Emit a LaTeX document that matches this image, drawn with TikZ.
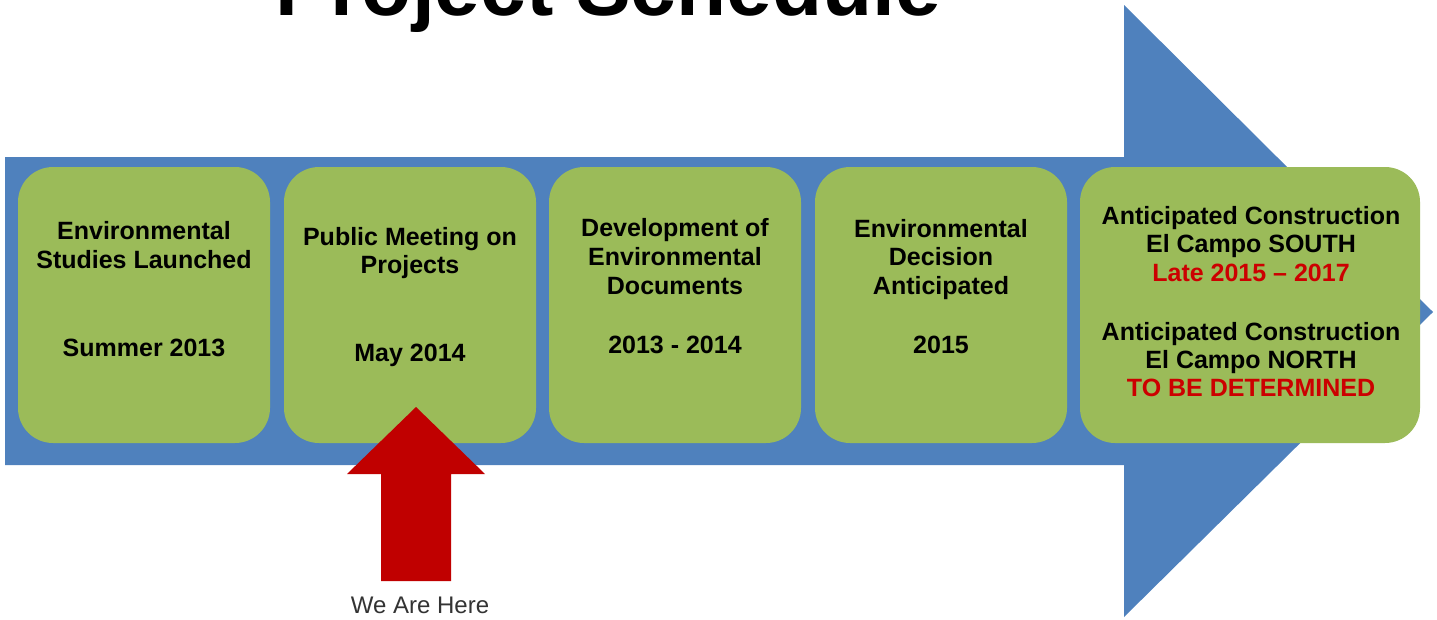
\documentclass[tikz,border=0pt]{standalone}
\usepackage{fontspec}
\setmainfont{Liberation Sans}
\definecolor{arrowblue}{HTML}{4F81BD}
\definecolor{boxgreen}{HTML}{9BBB59}
\definecolor{herered}{HTML}{C00000}
\definecolor{txtred}{HTML}{CC0000}
\begin{document}
\begin{tikzpicture}[x=1pt,y=-1pt,
  box/.style={fill=boxgreen, draw=none, rounded corners=35pt, minimum height=276pt, inner sep=0pt},
  lbl/.style={font=\fontsize{25}{29}\selectfont\bfseries, anchor=base, inner sep=0pt},
  redlbl/.style={lbl, text=txtred},
  herelbl/.style={font=\fontsize{24}{28}\selectfont, text=black!80, anchor=base, inner sep=0pt},
  titlelbl/.style={font=\fontsize{82}{90}\selectfont\bfseries, anchor=base, inner sep=0pt}]
\clip (0,0) rectangle (1437,619);
\useasboundingbox (0,0) rectangle (1437,619);
% title (cut off at top)
\node[titlelbl] (title) at (608,15) {Project Schedule};
% big blue arrow
\fill[arrowblue] (5,157) -- (1124,157) -- (1124,5) -- (1433,312) -- (1124,617) -- (1124,465) -- (5,465) -- cycle;
% green boxes
\node[box, minimum width=252pt] (b1) at (144,305) {};
\node[box, minimum width=252pt] (b2) at (410,305) {};
\node[box, minimum width=252pt] (b3) at (675,305) {};
\node[box, minimum width=252pt] (b4) at (941,305) {};
\node[box, minimum width=340pt] (b5) at (1250,305) {};
% box 1
\node[lbl] (t1a) at (144,239) {Environmental};
\node[lbl] (t1b) at (144,268) {Studies Launched};
\node[lbl] (t1c) at (144,356) {Summer 2013};
% box 2
\node[lbl] (t2a) at (410,245) {Public Meeting on};
\node[lbl] (t2b) at (410,273) {Projects};
\node[lbl] (t2c) at (410,361) {May 2014};
% box 3
\node[lbl] (t3a) at (675,236) {Development of};
\node[lbl] (t3b) at (675,265) {Environmental};
\node[lbl] (t3c) at (675,294) {Documents};
\node[lbl] (t3d) at (675,353) {2013 - 2014};
% box 4
\node[lbl] (t4a) at (941,237) {Environmental};
\node[lbl] (t4b) at (941,265) {Decision};
\node[lbl] (t4c) at (941,294) {Anticipated};
\node[lbl] (t4d) at (941,353) {2015};
% box 5
\node[lbl] (t5a) at (1251,224) {Anticipated Construction};
\node[lbl] (t5b) at (1251,252) {El Campo SOUTH};
\node[redlbl] (t5c) at (1251,281) {Late 2015 – 2017};
\node[lbl] (t5d) at (1251,340) {Anticipated Construction};
\node[lbl] (t5e) at (1251,368) {El Campo NORTH};
\node[redlbl] (t5f) at (1251,396) {TO BE DETERMINED};
% red "we are here" arrow
\fill[herered] (416,407) -- (485,474) -- (451,474) -- (451,581) -- (381,581) -- (381,474) -- (347,474) -- cycle;
\node[herelbl] (here) at (420,613) {We Are Here};
\end{tikzpicture}
\end{document}
